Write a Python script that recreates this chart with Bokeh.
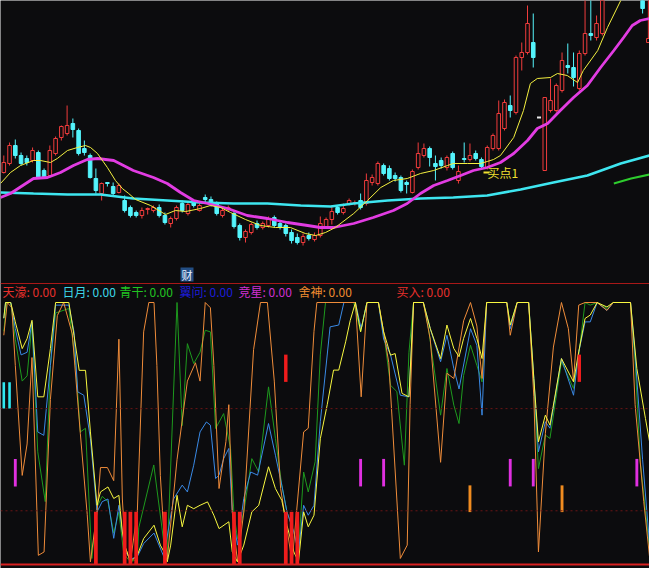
from bokeh.plotting import figure
from bokeh.models import Range1d, Span
from bokeh.embed import file_html
from bokeh.resources import INLINE
from bokeh.core.properties import value

# ---------------- data ----------------
c_idx = list(range(0, 105)) + [111, 112]
c_open = [12.8,13.7,15.5,14.5,14.2,14.0,14.8,13.0,12.5,14.7,
          16.3,16.7,17.7,17.0,15.2,14.5,12.2,10.7,11.8,11.4,
          10.8,10.0,9.3,8.8,8.5,9.1,9.0,9.3,8.5,7.7,
          8.2,9.7,8.7,9.8,9.0,10.3,10.1,9.7,8.5,9.1,
          8.7,7.5,6.3,6.8,7.7,7.3,7.5,8.3,7.7,7.5,
          6.8,6.3,5.8,6.5,6.1,6.5,7.4,8.1,9.3,8.8,
          9.7,9.7,10.0,9.7,11.8,11.7,13.5,13.2,12.5,12.3,
          11.8,10.8,13.3,14.5,15.2,13.7,14.0,13.3,14.7,12.0,
          14.2,14.1,14.7,14.1,13.3,15.2,15.2,17.2,19.5,18.8,
          24.3,24.8,25.8,18.3,13.0,19.0,19.0,21.0,23.5,23.3,
          21.2,24.7,26.7,26.3,26.7,
          32.0,25.8]
c_close = [13.8,15.5,14.5,13.7,13.8,15.0,12.3,12.3,15.0,16.2,
           17.4,17.5,17.1,14.7,14.8,12.3,11.0,11.7,11.7,10.7,
           11.5,9.0,8.5,8.5,9.0,9.2,9.3,8.5,7.8,8.2,
           9.3,9.0,9.6,9.5,9.5,10.1,9.7,8.7,9.0,9.3,
           7.4,6.3,6.9,7.6,7.3,7.7,8.2,7.5,7.3,6.7,
           6.0,5.8,6.4,6.2,6.5,7.7,8.1,8.9,8.8,9.2,
           10.0,9.8,9.3,12.0,12.3,13.7,12.7,12.2,12.2,11.0,
           11.6,12.9,14.7,15.2,14.3,13.4,13.5,14.3,13.3,12.9,
           14.1,14.5,14.2,13.4,15.3,16.5,18.7,19.8,19.0,24.3,
           24.8,27.7,24.3,18.3,20.3,20.0,21.5,24.0,23.3,22.3,
           24.7,26.7,26.5,27.7,31.0,
           29.2,26.2]
c_high = [14.5,15.8,16.1,14.8,14.5,15.3,15.0,13.2,15.5,16.4,
          17.5,19.5,18.2,17.2,16.0,14.7,13.2,11.8,11.8,11.8,
          11.7,10.5,9.5,9.0,9.3,9.3,9.5,9.6,8.8,8.4,
          9.5,10.0,9.9,10.1,9.7,10.6,10.4,9.9,9.2,9.5,
          8.9,7.7,7.1,7.8,8.0,7.9,8.4,8.5,7.9,7.7,
          7.1,6.7,6.7,6.8,6.8,8.4,8.3,9.5,9.5,9.7,
          10.2,10.0,10.7,12.7,12.6,13.9,13.7,13.5,12.8,12.5,
          12.0,13.1,15.8,15.7,15.4,14.5,14.3,14.5,14.9,13.5,
          15.8,15.7,15.0,14.3,15.5,16.7,20.0,20.1,20.5,24.5,
          25.8,29.5,28.7,18.3,20.3,22.2,21.7,24.8,25.7,24.8,
          25.0,30.5,31.0,28.5,31.5,
          32.5,31.0]
c_low = [12.7,13.5,14.2,13.5,13.5,13.8,12.2,12.2,12.4,14.5,
         16.0,16.5,16.3,14.5,14.5,12.2,10.7,10.0,11.4,10.5,
         10.7,8.8,8.3,8.3,8.2,8.6,8.8,8.3,7.6,7.3,
         8.0,8.8,8.5,9.3,8.9,9.8,9.4,8.5,8.3,8.9,
         7.2,6.0,5.8,6.6,7.1,7.1,7.3,7.3,7.1,6.4,
         5.7,5.6,5.5,6.0,5.9,6.3,7.2,7.6,8.6,8.6,
         9.5,9.5,9.1,9.5,11.5,11.5,12.5,12.0,11.9,10.8,
         10.7,10.7,13.1,14.3,13.4,12.0,13.2,13.0,13.1,11.7,
         13.8,13.9,14.0,13.2,13.1,15.0,15.0,17.0,18.3,18.6,
         23.0,24.6,23.3,18.3,13.0,18.8,18.8,20.8,22.7,21.4,
         21.0,24.5,26.0,26.0,26.5,
         28.7,25.8]

# moving averages: (bar index, price) vertices
ma_fast = [(-0.57,11.7),(1.16,12.8),(2.9,13.5),(5.16,14.0),(6.38,14.0),(8.1,13.8),(9.3,14.2),
           (11.07,15.0),(12.8,15.3),(14.2,15.5),(15.07,15.3),(16.28,14.7),(18.0,13.3),(19.4,12.0),
           (20.6,11.2),(21.7,10.7),(22.9,10.1),(25.5,9.5),(28.1,8.6),(29.8,9.0),(31.6,8.9),
           (34.2,9.2),(35.9,9.5),(37.7,9.3),(39.4,8.8),(42.0,8.1),(44.6,7.5),(47.2,7.3),(49.8,7.3),
           (52.4,6.7),(54.2,6.5),(55.9,6.8),(57.6,7.3),(60.8,8.7),(63.2,10.0),(65.5,11.3),
           (67.7,12.0),(70.1,12.2),(72.4,12.7),(74.7,13.0),(77.1,13.5),(78.1,13.7),(80.6,13.7),
           (82.8,13.7),(84.0,13.9),(85.1,14.1),(86.3,14.5),(88.6,16.3),(90.3,19.0),(91.5,21.7),
           (92.7,22.2),(95.0,22.3),(96.2,22.7),(97.9,22.5),(99.7,21.8),(100.7,23.0),(103.2,25.0),
           (104.9,27.3),(107.2,30.0),(108.5,31.5)]
ma_mid = [(-0.57,10.3),(1.16,10.7),(5.16,12.2),(7.59,12.3),(9.85,12.8),(12.1,13.5),(14.5,14.1),
          (16.3,14.2),(19.1,14.0),(22.5,13.0),(26.0,12.3),(28.4,11.7),(30.7,10.8),(33.0,10.0),
          (35.4,9.7),(38.9,9.2),(42.3,8.5),(45.8,8.2),(49.3,7.8),(52.8,7.5),(55.0,7.3),(57.3,7.3),
          (60.8,7.7),(64.2,8.3),(67.7,9.0),(70.1,9.7),(72.4,10.7),(74.7,11.5),(77.1,12.0),
          (79.4,12.5),(81.6,13.0),(84.0,13.3),(86.3,13.8),(88.6,14.7),(91.0,16.0),(92.7,17.2),
          (94.5,17.7),(96.7,19.0),(99.0,20.3),(101.4,21.5),(103.7,23.3),(106.0,25.0),(107.7,26.3),
          (109.2,27.5),(110.6,28.0),(112.2,28.2)]
ma_slow = [(-0.57,10.8),(5.16,10.7),(11.07,10.6),(16.8,10.6),(22.5,10.2),(28.4,10.0),(34.2,9.8),
           (39.9,9.7),(45.8,9.7),(51.6,9.5),(56.8,9.4),(60.8,9.7),(66.7,10.0),(72.4,10.2),
           (78.1,10.3),(84.0,10.5),(89.8,11.1),(95.5,11.8),(101.4,12.5),(107.2,13.7),(112.2,14.5)]
ma_year = [(106.0,11.7),(109.0,12.2),(112.2,12.6)]

# oscillator panel: (bar index, value 0-100) vertices
osc_yellow = [(0,94),(0.3,100),(1.2,100),(2,92.6),(3.2,82.4),(4.05,86.2),(4.9,93.2),(5.9,64),(6.95,64),
              (8.1,82.4),(9,100),(11.3,100),(12.2,87.5),(13.1,74.1),(14.2,74.1),(15.05,50.6),(16.2,22.6),
              (16.8,27.7),(18.1,29.6),(19.1,25.2),(20,26.4),(20.6,12.4),(21.1,6.7),(22,1),(23.2,3.5),
              (24.3,9.9),(26.1,15),(27.2,7.4),(27.8,5),(28.4,1),(29,7.4),(30.1,26.4),(31,14.4),
              (31.9,22.6),(33,21.3),(34.1,22.6),(35.4,23.9),(36.5,18.8),(37.4,13.7),(39.1,16.3),
              (39.7,4.8),(40.6,1),(41.7,7.4),(43.1,20.1),(44.3,22.6),(46,37.3),(47.2,29),(48.3,24.5),
              (49.2,15),(50.4,4.8),(51.2,1),(52.1,20.1),(52.9,14.4),(53.9,18.8),(55,48),(56.2,61),
              (57.3,74.2),(58.2,74.2),(59.4,85),(60.2,93.2),(61.1,100),(62,88.8),(63.1,100),(65.1,100),
              (66,88.8),(67.2,79.9),(68,80.5),(69.2,65.3),(70.4,64),(71.2,100),(72.9,100),(74.1,90.1),
              (75.9,78.6),(77,91.4),(78.2,82.4),(79.1,79.3),(79.9,86.3),(81.1,93.9),(82.2,86.3),
              (83.1,78.6),(83.9,100),(87.4,100),(88,91.4),(89.2,100),(91.2,100),(92.1,71),(92.9,46.8),
              (94.1,57),(94.9,53.2),(96.9,78.6),(99,69.7),(99.9,81.2),(101,93.9),(101.9,95.2),
              (103.1,100),(104.8,98.3),(105.9,100),(108.9,100),(110,74.8),(111.5,55.7),(112.2,47)]
osc_green = [(0,89),(0.5,100),(1.2,100),(2.0,86),(3.2,70),(4.05,72),(4.9,92),(5.9,43),(7.2,24),(8.1,76),
             (9.0,96),(11.3,97.7),(12.5,76),(13.3,50.6),(14.2,52),(15.3,2.3),(16.2,22),(17.1,26),
             (18.1,24),(19.1,12),(20,20),(20.85,4),(22,1),(23.2,2),(23.45,14),(26.06,38),(28.1,3.5),
             (28.4,3.5),(30.1,100),(31,53),(31.9,84.3),(33,76.7),(34.1,81),(35,89.4),(35.9,88.8),
             (36.8,51.9),(38.2,57.6),(39.4,44.3),(39.97,20.1),(40.6,9.9),(41.7,20.1),(43.1,40.4),
             (44.3,35.3),(46,67.8),(47.2,48.1),(48.3,30.3),(49.2,20.1),(50.4,12.4),(51.2,4.8),
             (52.1,35.3),(52.9,27.7),(54.1,39.2),(55,80),(55.9,100),(60.8,100),(62,88.8),(63.1,100),
             (65.1,100),(66.3,83.7),(67.2,68.4),(68.3,66),(69.6,37.9),(70.4,81),(71.2,100),(72.9,100),
             (73.8,90),(75.9,57),(77,74.8),(78.2,60.8),(79.1,53.8),(79.9,72.2),(81.1,83.7),(82.2,76),
             (83.1,69.7),(83.9,100),(87.4,100),(88,91.4),(89.2,100),(91.2,100),(92.1,69.7),(92.9,36.6),
             (94.1,49.4),(94.9,48.1),(96.9,77.4),(99,67.2),(99.9,79.9),(101,100),(101.9,99),(103.1,100),
             (104.8,97.7),(105.9,100),(108.9,100),(109.7,77.4),(110.6,39),(112.2,6)]
osc_blue = [(0,94),(0.3,100),(1.2,100),(2.0,90),(3.0,80),(4.05,81),(4.9,92.6),(5.9,50.6),(6.95,49.3),
            (8.1,76),(9.0,99),(11.3,99),(12.2,88.8),(12.85,65.9),(13.9,64.6),(15.05,48),(16.2,20.1),
            (17.1,24),(18.1,25),(19.1,10),(20,22.6),(20.6,12.4),(21.1,5),(22,2),(23.2,3),(24.3,8),
            (26.1,12),(27.8,3),(29.5,25),(31,30.3),(31.9,27.7),(33,37.9),(34.1,50.6),(35.2,54.4),
            (35.9,53.2),(36.8,32.8),(37.4,34.1),(38.2,40.4),(39.1,44.3),(39.7,20.1),(40.6,7.4),
            (41.7,25.2),(42.9,35.3),(44.1,34.1),(46,53.8),(47.2,41.7),(48.3,30.3),(49.2,20.1),
            (50.4,12.4),(51.2,4.8),(52.1,22.6),(52.9,18.8),(53.9,22.6),(55,54.5),(56.7,90.7),
            (58.2,91.4),(59.1,100),(61.1,100),(62.1,90),(63.1,100),(65.1,100),(66,86),(67.2,80),
            (68.9,64.6),(70.4,64),(71.2,100),(72.9,100),(74.1,90),(75.9,77.4),(77.0,87.5),(78.2,74.8),
            (79.1,67),(81.1,90),(82.2,83.7),(83.1,57),(83.9,100),(87.4,100),(88,90),(89.2,100),
            (91.2,100),(92.1,71),(92.9,43),(94.1,54.5),(94.9,52),(96.9,78.6),(99,64.6),(99.9,81),
            (101,92.6),(101.9,92.6),(103.1,100),(104.8,97),(105.9,100),(108.9,100),(109.7,80),
            (111,40),(112.2,8)]
osc_orange = [(0,87.5),(0.6,100),(1.4,98),(2.0,76),(3.2,34),(4.05,46),(4.9,79),(6.0,3.5),(7.0,4.8),
              (8.1,63),(9.3,95),(10.4,100),(11.9,88),(13.3,50),(14.5,19),(15.05,1),(16.2,20),(16.8,37),
              (18.0,37),(19.1,32),(20.0,86),(20.6,25),(21.1,6.7),(22.0,1),(23.2,20),(24.3,88.8),
              (25.2,100),(26.1,100),(26.6,76),(27.2,34),(27.8,12.4),(28.4,2),(30.1,40),(31.9,70),
              (33.3,77),(34.1,70),(35,100),(35.9,98),(36.5,76),(37.4,29),(38.6,47),(39.1,61),(39.7,20),
              (40.6,1),(41.7,20),(43.4,82),(44.6,100),(45.8,100),(47.0,70),(48.1,29),(50.1,1),
              (52.1,50.6),(52.9,52),(53.9,89),(54.4,100),(61.1,100),(62.1,64),(63.1,100),(65.1,100),
              (66,88.8),(66.9,77),(68.9,2.3),(70.1,7.4),(70.6,61),(71.2,100),(72.9,100),(74.1,86),
              (75.9,39),(77.0,73),(78.2,71),(79.9,93),(81.1,100),(82.2,91),(83.1,71),(83.9,100),
              (87.4,100),(88,87.5),(89.2,100),(91.2,100),(92.1,64),(92.9,4.8),(94.1,50),(95.5,83),
              (96.9,100),(98.1,90),(99,70),(99.9,99),(101,100),(103.1,100),(104.8,97),(105.9,100),
              (108.9,100),(109.7,61),(111.2,24),(112.2,3)]

# signal marks: bar indices
sig_cyan = [0, 1]
sig_magenta = [2, 62, 66, 88, 92, 110]
sig_orange = [81, 97]
sig_buy_top = [49, 100]
sig_buy_low = [16, 21, 22, 23, 28, 40, 41, 49, 50, 51]

legend_names = ["天濠", "日月", "青干", "翼问", "竞星", "舍神", "买入"]
legend_values = ["0.00"] * 7
legend_colors = ["#e8302c", "#3cd8e8", "#22c422", "#1c1cd8", "#d030d0", "#f08c30", "#e8302c"]

# ---------------- layout helpers (reference pixels -> data) ----------------
BG = "#0c0c0e"
W, H = 649, 568
def xi(px):
    return (px - 3.3) / 5.755
def yp(py):
    return 30 - py / 10.0

p = figure(width=W, height=H, x_range=Range1d(xi(0), xi(649)),
           y_range=Range1d(yp(568), yp(0)),
           x_axis_location=None, y_axis_location=None,
           output_backend="svg", toolbar_location=None, min_border=0,
           background_fill_color=BG, border_fill_color=BG, outline_line_color=None)
p.extra_y_ranges = {"osc": Range1d((564 - 568) / 2.62, 564 / 2.62)}
p.xgrid.visible = False
p.ygrid.visible = False

RED = "#f03c3c"
CYAN = "#54f4fc"

# candles
up_x, up_o, up_c = [], [], []
dn_x, dn_o, dn_c = [], [], []
wk_x, wk_h, wk_l, wk_col = [], [], [], []
dj_x, dj_y = [], []
for i, o, h, l, c in zip(c_idx, c_open, c_high, c_low, c_close):
    if c > o:
        up_x.append(i); up_o.append(o); up_c.append(c); col = RED
    elif c < o:
        dn_x.append(i); dn_o.append(o); dn_c.append(c); col = CYAN
    else:
        dj_x.append(i); dj_y.append(c); col = "#e8e8e8"
    wk_x.append(i); wk_h.append(h); wk_l.append(l); wk_col.append(col)

p.segment(x0=wk_x, y0=wk_l, x1=wk_x, y1=wk_h, color=wk_col, line_width=1)
p.vbar(x=up_x, width=0.62, top=up_c, bottom=up_o, fill_color=BG, line_color=RED, line_width=1)
p.vbar(x=dn_x, width=0.62, top=dn_o, bottom=dn_c, fill_color=CYAN, line_color=CYAN, line_width=1)
p.segment(x0=[x - 0.35 for x in dj_x], y0=dj_y, x1=[x + 0.35 for x in dj_x], y1=dj_y,
          color="#e8e8e8", line_width=2)

def xy(pairs):
    return [a for a, b in pairs], [b for a, b in pairs]

x, y = xy(ma_slow); p.line(x, y, line_color="#3ee6f0", line_width=2.6)
x, y = xy(ma_mid); p.line(x, y, line_color="#e23ce2", line_width=2.8)
x, y = xy(ma_fast); p.line(x, y, line_color="#f4f040", line_width=1)
x, y = xy(ma_year); p.line(x, y, line_color="#2ecc2e", line_width=2)

# buy label
p.line([xi(483), xi(489)], [yp(172), yp(172)], line_color="#f0e030", line_width=2)
p.text(x=[xi(487)], y=[yp(172)], text=["买点1"], text_color="#f0e030",
       text_font=value("Noto Sans CJK SC"), text_font_size="12px",
       text_baseline="middle", text_align="left")

# separator & "财" tag
p.add_layout(Span(location=yp(283), dimension="width", line_color="#a81818", line_width=1))
p.quad(left=[xi(180)], right=[xi(193)], top=[yp(267)], bottom=[yp(281)],
       fill_color="#234e84", line_color=None)
p.text(x=[xi(186.5)], y=[yp(274)], text=["财"], text_color="#e8f0ff",
       text_font=value("Noto Sans CJK SC"), text_font_size="11px",
       text_baseline="middle", text_align="center")

# legend row
leg_px = [2, 62, 119, 179, 238, 298, 396]
p.text(x=[xi(v) for v in leg_px], y=[yp(290.5)] * 7,
       text=[f"{n}: {v}" for n, v in zip(legend_names, legend_values)],
       text_color=legend_colors, text_font=value("Noto Sans CJK SC"),
       text_font_size="12px", text_baseline="middle", text_align="left")

# oscillator grid lines
for lv in (59.5, 20.5):
    p.add_layout(Span(location=lv, dimension="width", y_range_name="osc",
                      line_color="#6a1616", line_width=1, line_dash="2 3"))
p.add_layout(Span(location=0, dimension="width", y_range_name="osc",
                  line_color="#d82020", line_width=2))

for pairs, col in ((osc_green, "#1e9a1e"), (osc_blue, "#3a8ae6"),
                   (osc_orange, "#f08c3a"), (osc_yellow, "#f8f840")):
    x, y = xy(pairs)
    p.line(x, y, line_color=col, line_width=1, y_range_name="osc")

p.vbar(x=sig_cyan, width=0.45, top=69.6, bottom=59.5, fill_color="#30e8f0",
       line_color=None, y_range_name="osc")
p.vbar(x=sig_magenta, width=0.5, top=40.3, bottom=29.8, fill_color="#e030e0",
       line_color=None, y_range_name="osc")
p.vbar(x=sig_orange, width=0.5, top=30.2, bottom=20.0, fill_color="#f08c20",
       line_color=None, y_range_name="osc")
p.vbar(x=sig_buy_top, width=0.6, top=80.1, bottom=69.7, fill_color="#f01c1c",
       line_color=None, y_range_name="osc")
p.vbar(x=sig_buy_low, width=0.65, top=20.1, bottom=0, fill_color="#f01c1c",
       line_color=None, y_range_name="osc")

open("out.html", "w").write(file_html(p, INLINE))
